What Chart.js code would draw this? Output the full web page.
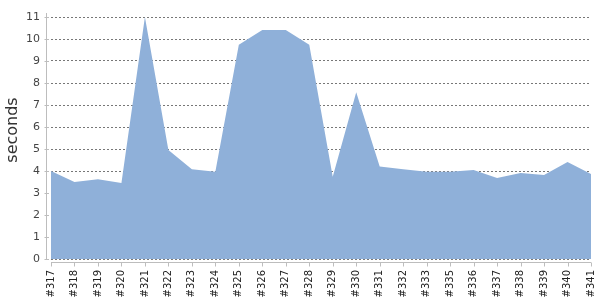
<!DOCTYPE html>
<html>
<head>
<meta charset="utf-8">
<script src="https://cdn.jsdelivr.net/npm/chart.js@4/dist/chart.umd.min.js"></script>
<style>
html,body{margin:0;padding:0;background:#fff;}
#wrap{width:600px;height:300px;position:relative;}
</style>
</head>
<body>
<div id="wrap"><canvas id="c" width="600" height="300"></canvas></div>
<script>
const categories = ['#317','#318','#319','#320','#321','#322','#323','#324','#325','#326','#327','#328','#329','#330','#331','#332','#333','#335','#336','#337','#338','#339','#340','#341'];
const seconds = [4.0,3.5,3.62,3.45,11.0,4.95,4.08,3.97,9.74,10.41,10.41,9.74,3.74,7.58,4.2,4.08,3.97,3.97,4.05,3.68,3.91,3.82,4.41,3.86];
const yTicks = [0,1,2,3,4,5,6,7,8,9,10,11];
const yTitle = 'seconds';

const axisPlugin = {
  id: 'axisPlugin',
  afterDraw(chart) {
    const ctx = chart.ctx;
    const ca = chart.chartArea;
    const xs = chart.scales.x, ys = chart.scales.y;
    ctx.save();
    ctx.strokeStyle = '#bdbdbd';
    ctx.lineWidth = 1;
    const ax = Math.round(ca.left) - 4.5;
    ctx.beginPath();
    ctx.moveTo(ax, ca.top - 4);
    ctx.lineTo(ax, ca.bottom);
    ctx.stroke();
    yTicks.forEach(v => {
      const py = Math.round(ys.getPixelForValue(v)) + 0.5;
      ctx.beginPath();
      ctx.moveTo(ax - 2, py);
      ctx.lineTo(ax + 2.5, py);
      ctx.stroke();
    });
    const ay = Math.round(ca.bottom) + 3.5;
    ctx.beginPath();
    ctx.moveTo(ca.left, ay);
    ctx.lineTo(ca.right, ay);
    ctx.stroke();
    categories.forEach((c, i) => {
      const px = Math.round(xs.getPixelForValue(i)) + 0.5;
      ctx.beginPath();
      ctx.moveTo(px, ay);
      ctx.lineTo(px, ay + 4);
      ctx.stroke();
    });
    ctx.fillStyle = '#333';
    ctx.font = '16px "DejaVu Sans"';
    ctx.textAlign = 'center';
    ctx.textBaseline = 'middle';
    ctx.translate(13, 130);
    ctx.rotate(-Math.PI / 2);
    ctx.fillText(yTitle, 0, 0);
    ctx.restore();
  }
};

new Chart(document.getElementById('c'), {
  type: 'line',
  data: {
    labels: categories,
    datasets: [{
      data: seconds,
      fill: 'origin',
      backgroundColor: 'rgb(143,176,217)',
      borderWidth: 0,
      borderColor: 'rgba(0,0,0,0)',
      pointRadius: 0,
      tension: 0
    }]
  },
  options: {
    responsive: false,
    animation: false,
    layout: { padding: { top: 17, right: 9, left: 0, bottom: 0 } },
    plugins: { legend: { display: false }, tooltip: { enabled: false } },
    scales: {
      x: {
        type: 'category',
        offset: false,
        grid: { display: false, drawTicks: false },
        border: { display: false },
        ticks: {
          autoSkip: false,
          maxRotation: 90,
          minRotation: 90,
          padding: 11,
          color: '#222',
          font: { family: 'DejaVu Sans', size: 10 }
        },
        afterFit(s) { s.height = 41; s.paddingLeft = 0; s.paddingRight = 0; }
      },
      y: {
        min: 0,
        max: 11,
        afterBuildTicks(s) { s.ticks = yTicks.map(v => ({ value: v })); },
        grid: { color: '#777', drawTicks: false, lineWidth: 1 },
        border: { display: false, dash: [2, 2] },
        ticks: {
          padding: 11,
          color: '#444',
          font: { family: 'DejaVu Sans', size: 11 }
        },
        afterFit(s) { s.width = 51; s.paddingTop = 0; s.paddingBottom = 0; }
      }
    }
  },
  plugins: [axisPlugin]
});
</script>
</body>
</html>
